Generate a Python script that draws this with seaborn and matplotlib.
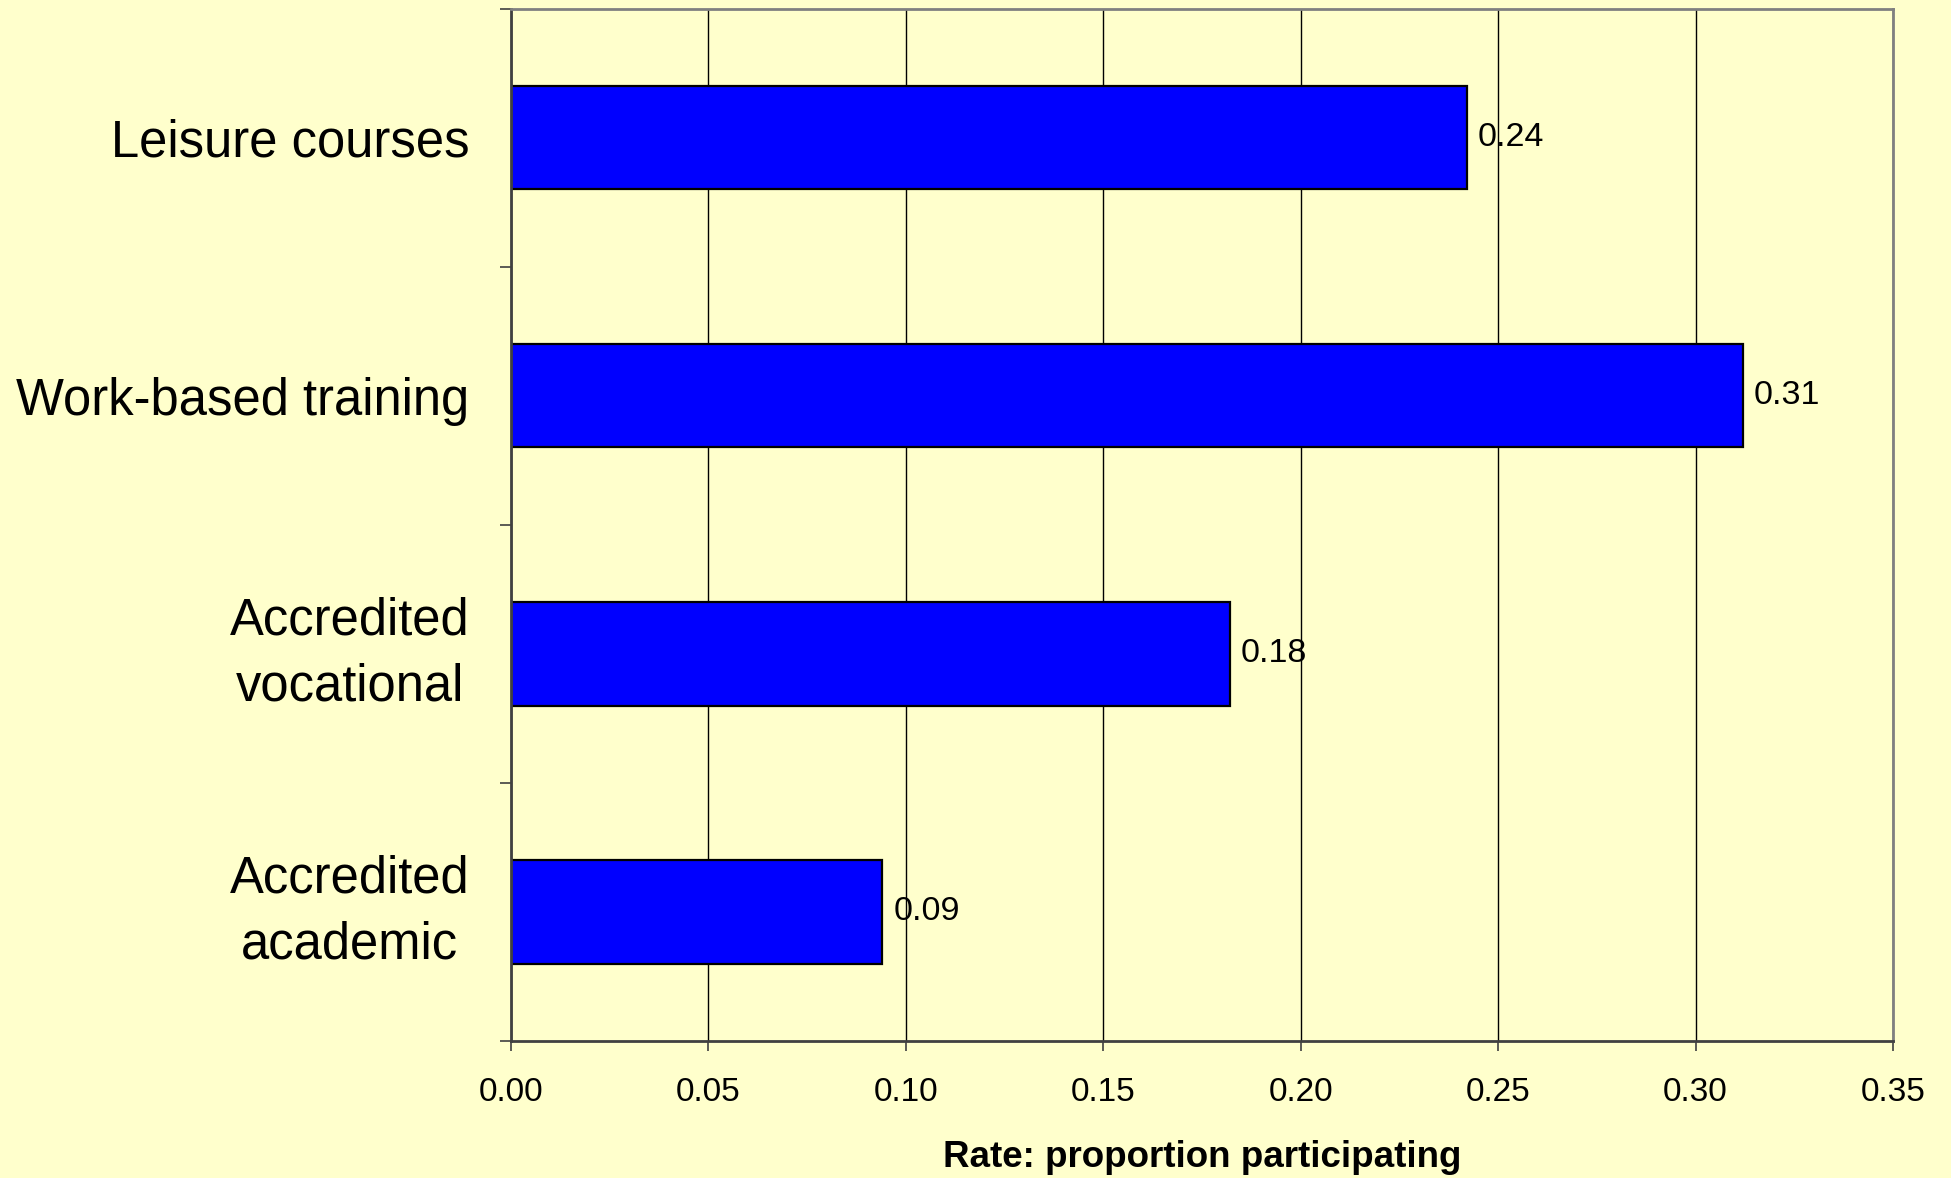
import matplotlib
matplotlib.use("Agg")
import matplotlib.pyplot as plt
import seaborn as sns
import pandas as pd
import numpy as np

categories = ["Leisure courses", "Work-based training", "Accredited\nvocational", "Accredited\nacademic"]
values = [0.242, 0.312, 0.182, 0.094]
xticks = [0.00, 0.05, 0.10, 0.15, 0.20, 0.25, 0.30, 0.35]
xlabel = "Rate: proportion participating"

sns.set_style("ticks")
plt.rcParams['font.family'] = ['Liberation Sans', 'DejaVu Sans']
plt.rcParams['text.color'] = 'black'
plt.rcParams['axes.labelcolor'] = 'black'
plt.rcParams['xtick.labelcolor'] = 'black'
plt.rcParams['ytick.labelcolor'] = 'black'

bg = "#FFFFCC"
fig = plt.figure(figsize=(19.51, 11.78), dpi=100, facecolor=bg)
ax = fig.add_axes([511/1951, 1 - 1041/1178, (1893 - 511)/1951, (1041 - 8.7)/1178])
ax.set_facecolor(bg)

df = pd.DataFrame({"category": categories, "value": values})
sns.barplot(data=df, x="value", y="category", orient="h", color="#0000FF",
            saturation=1, edgecolor="black", linewidth=1.6, width=0.4, ax=ax)

ax.set_xlim(0, 0.35)
ax.set_ylim(3.5, -0.5)
ax.set_xticks(xticks)
ax.set_xticklabels([f"{t:.2f}" for t in xticks], fontsize=24, color="black")
ax.set_yticks(range(len(categories)))
ylabels = ax.set_yticklabels(categories, fontsize=36.5, multialignment="center",
                             linespacing=1.43, color="black")
for lab in ylabels:
    lab.set_va("center" if "\n" in lab.get_text() else "center_baseline")
ax.set_yticks(np.arange(-0.5, len(categories)), minor=True)

ax.tick_params(axis="y", which="major", length=0, pad=30)
ax.tick_params(axis="y", which="minor", length=8, width=1.2, color="#404040", direction="out")
ax.tick_params(axis="x", which="major", length=7, width=1.2, color="#404040", direction="out",
               pad=19)

ax.grid(axis="x", color="black", linewidth=1.0)
ax.grid(axis="y", visible=False)
ax.set_axisbelow(True)

for side in ["left", "bottom"]:
    ax.spines[side].set_color("#404040")
    ax.spines[side].set_linewidth(2)
for side in ["top", "right"]:
    ax.spines[side].set_visible(True)
    ax.spines[side].set_color("#808080")
    ax.spines[side].set_linewidth(2)

ax.bar_label(ax.containers[0], fmt="%.2f", padding=8, fontsize=24.5, color="black")

ax.set_ylabel("")
ax.set_xlabel(xlabel, fontsize=26.5, fontweight="bold", va="center", color="black")
ax.xaxis.set_label_coords(0.5, -0.1124)

fig.savefig("out.png", dpi=100, facecolor=bg)
